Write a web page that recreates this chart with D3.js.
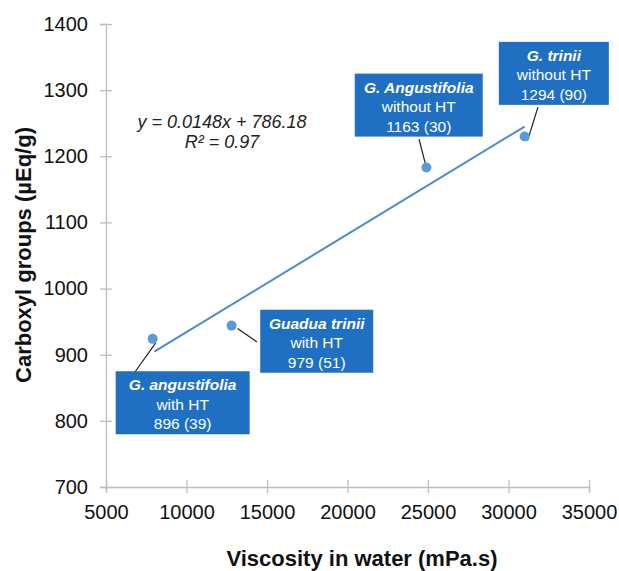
<!DOCTYPE html>
<html>
<head>
<meta charset="utf-8">
<script src="https://cdn.jsdelivr.net/npm/d3@7"></script>
<style>
  body { margin: 0; background: #fff; }
  svg { display: block; font-family: 'Liberation Sans', Arial, sans-serif; }
</style>
</head>
<body>
<svg id="chart" width="619" height="571"></svg>
<script>
// data
const viscosity = [7900, 12800, 24900, 31000]
const carboxyl = [924, 944, 1183, 1230]
const species = ['G. angustifolia', 'Guadua trinii', 'G. Angustifolia', 'G. trinii']
const treatment = ['with HT', 'with HT', 'without HT', 'without HT']
const meanSd = ['896 (39)', '979 (51)', '1163 (30)', '1294 (90)']
// label box anchor (data units: box left, box top) and box width in px
const boxX = [5600, 14580, 20450, 29400]
const boxY = [875, 968, 1325, 1373]
const boxW = [134, 113, 128, 110]
const xTicks = [5000, 10000, 15000, 20000, 25000, 30000, 35000]
const yTicks = [700, 800, 900, 1000, 1100, 1200, 1300, 1400]
const slope = 0.0148
const intercept = 786.18
const trendRange = [8000, 31000]

const svg = d3.select('#chart')

const x = d3.scaleLinear().domain([5000, 35000]).range([106, 589])
const y = d3.scaleLinear().domain([700, 1400]).range([487, 24])

const axisColor = '#bdbdbd'

// y axis
const yAxis = svg.append('g')
  .attr('transform', 'translate(' + x(5000) + ',0)')
  .call(d3.axisLeft(y).tickValues(yTicks).tickSize(6).tickPadding(12).tickFormat(d3.format('d')))
yAxis.select('.domain').attr('stroke', axisColor).attr('stroke-width', 1.3)
yAxis.selectAll('.tick line').attr('stroke', axisColor).attr('x1', -6).attr('x2', 6).attr('stroke-width', 1.3)
yAxis.selectAll('.tick text').attr('font-size', 20).attr('fill', '#111')
  .attr('font-family', "'Liberation Sans', Arial, sans-serif")

// x axis
const xAxis = svg.append('g')
  .attr('transform', 'translate(0,' + y(700) + ')')
  .call(d3.axisBottom(x).tickValues(xTicks).tickSize(6).tickPadding(12).tickFormat(d3.format('d')))
xAxis.select('.domain').attr('stroke', axisColor).attr('stroke-width', 1.3)
xAxis.selectAll('.tick line').attr('stroke', axisColor).attr('y1', -7).attr('y2', 6).attr('stroke-width', 1.3)
xAxis.selectAll('.tick text').attr('font-size', 20).attr('fill', '#111')
  .attr('font-family', "'Liberation Sans', Arial, sans-serif")

// axis titles
svg.append('text')
  .attr('x', 362).attr('y', 566)
  .attr('text-anchor', 'middle')
  .attr('font-size', 22).attr('font-weight', 'bold').attr('fill', '#111')
  .text('Viscosity in water (mPa.s)')

svg.append('text')
  .attr('transform', 'translate(31,255) rotate(-90)')
  .attr('text-anchor', 'middle')
  .attr('font-size', 22).attr('font-weight', 'bold').attr('fill', '#111')
  .text('Carboxyl groups (\u00b5Eq/g)')

// trend line
svg.append('line')
  .attr('x1', x(trendRange[0])).attr('y1', y(slope * trendRange[0] + intercept))
  .attr('x2', x(trendRange[1])).attr('y2', y(slope * trendRange[1] + intercept))
  .attr('stroke', '#4a8bcc').attr('stroke-width', 2)

// equation
const eq = svg.append('text')
  .attr('text-anchor', 'middle').attr('font-size', 18).attr('font-style', 'italic').attr('fill', '#222')
eq.append('tspan').attr('x', 222).attr('y', 128).text('y = 0.0148x + 786.18')
eq.append('tspan').attr('x', 222).attr('y', 148).text('R\u00b2 = 0.97')

// points
const pts = viscosity.map(function (v, i) {
  return { x: v, y: carboxyl[i], sp: species[i], tr: treatment[i], ms: meanSd[i], bx: boxX[i], by: boxY[i], bw: boxW[i] }
})

// leader lines go from box edge toward the point
const leaderStart = [[135, 372], [257, 342], [419, 139], [538, 107]]
svg.append('g').selectAll('line')
  .data(pts)
  .enter().append('line')
  .attr('x1', function (d, i) { return leaderStart[i][0] })
  .attr('y1', function (d, i) { return leaderStart[i][1] })
  .attr('x2', function (d) { return x(d.x) + (d.x > 20000 ? (d.x > 30000 ? 3 : 1) : (d.x > 10000 ? 6 : 3)) })
  .attr('y2', function (d) { return y(d.y) + (d.x > 10000 && d.x < 20000 ? 3 : 4) })
  .attr('stroke', '#222').attr('stroke-width', 1.2)

svg.append('g').selectAll('circle')
  .data(pts)
  .enter().append('circle')
  .attr('cx', function (d) { return x(d.x) })
  .attr('cy', function (d) { return y(d.y) })
  .attr('r', 5)
  .attr('fill', '#5b9bd5')

// label boxes
const box = svg.append('g').selectAll('g')
  .data(pts)
  .enter().append('g')
  .attr('transform', function (d) { return 'translate(' + x(d.bx) + ',' + y(d.by) + ')' })

box.append('rect')
  .attr('width', function (d) { return d.bw })
  .attr('height', 63)
  .attr('fill', '#1f6fc2')

const lbl = box.append('text')
  .attr('text-anchor', 'middle').attr('fill', '#fff').attr('font-size', 15.5)
lbl.append('tspan')
  .attr('x', function (d) { return d.bw / 2 }).attr('y', 19)
  .attr('font-weight', 'bold').attr('font-style', 'italic')
  .text(function (d) { return d.sp })
lbl.append('tspan')
  .attr('x', function (d) { return d.bw / 2 }).attr('y', 38.5)
  .text(function (d) { return d.tr })
lbl.append('tspan')
  .attr('x', function (d) { return d.bw / 2 }).attr('y', 58)
  .text(function (d) { return d.ms })
</script>
</body>
</html>
